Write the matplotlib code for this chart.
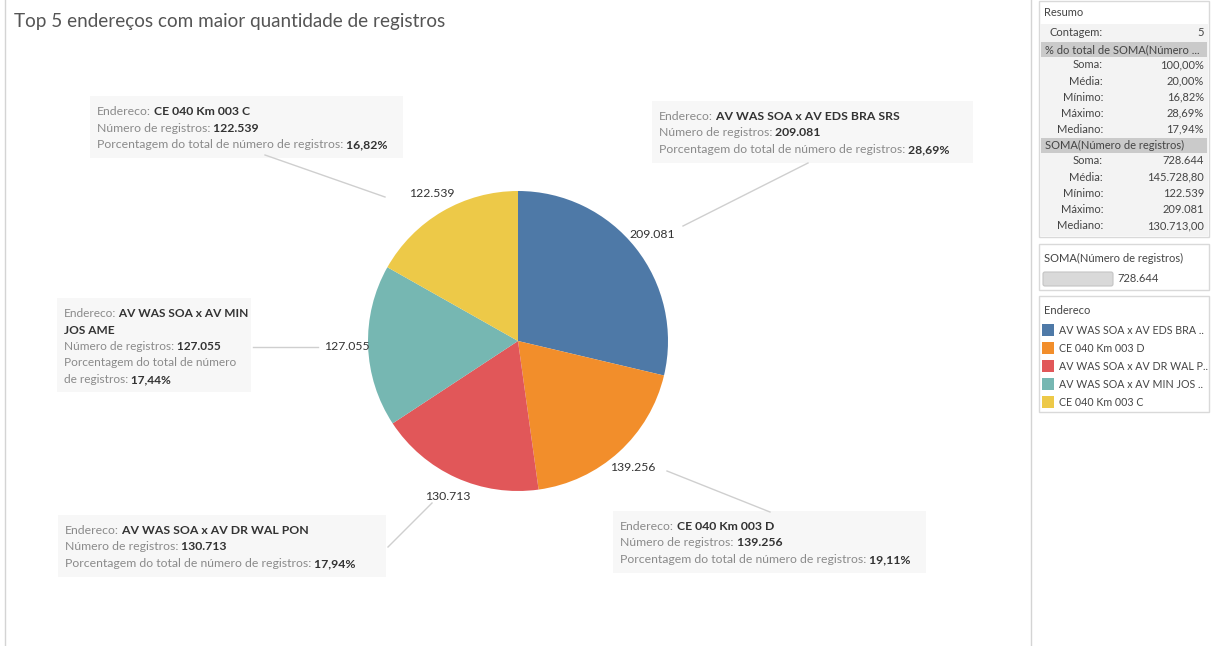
import matplotlib.pyplot as plt
from matplotlib.patches import Rectangle, FancyBboxPatch
import numpy as np

plt.rcParams['font.family'] = ['Lato', 'DejaVu Sans']

# data
enderecos = ["AV WAS SOA x AV EDS BRA SRS", "CE 040 Km 003 D", "AV WAS SOA x AV DR WAL PON",
             "AV WAS SOA x AV MIN JOS AME", "CE 040 Km 003 C"]
legenda = ["AV WAS SOA x AV EDS BRA ..", "CE 040 Km 003 D", "AV WAS SOA x AV DR WAL P..",
           "AV WAS SOA x AV MIN JOS ..", "CE 040 Km 003 C"]
registros = [209081, 139256, 130713, 127055, 122539]
cores = ["#4e79a7", "#f28e2b", "#e15759", "#76b7b2", "#edc948"]


def fmt_int(v):
    return f"{v:,}".replace(",", ".")


def fmt_dec(v):
    return f"{v:,.2f}".replace(",", "X").replace(".", ",").replace("X", ".")


def fmt_pct(v):
    return f"{v:.2f}%".replace(".", ",")


total = sum(registros)
pcts = [100 * r / total for r in registros]

W, H = 1211, 646
fig = plt.figure(figsize=(W / 100, H / 100), dpi=100)

# pixel-space layer for the dashboard frame, boxes and texts
bg = fig.add_axes([0, 0, 1, 1])
bg.set_xlim(0, W)
bg.set_ylim(H, 0)
bg.axis('off')

bg.plot([5, 5], [0, H], color="#d4d4d4", lw=1)
bg.plot([1031, 1031], [0, H], color="#d4d4d4", lw=1)

bg.text(14, 21, "Top 5 endereços com maior quantidade de registros", fontsize=13.6,
        color="#555555", va='center', ha='left')

# pie
cx, cy, r = 518, 341, 150
ax = fig.add_axes([(cx - r) / W, (H - cy - r) / H, 2 * r / W, 2 * r / H])
wedges, _ = ax.pie(registros, colors=cores, startangle=90, counterclock=False,
                   wedgeprops=dict(linewidth=0))
ax.set_xlim(-1, 1)
ax.set_ylim(-1, 1)

for w, v in zip(wedges, registros):
    ang = np.deg2rad((w.theta1 + w.theta2) / 2)
    ax.text(1.14 * np.cos(ang), 1.14 * np.sin(ang), fmt_int(v), ha='center', va='center',
            fontsize=8.8, color="#333333", clip_on=False)


def rich(x, y, parts, size=8.8):
    prev = None
    for s, bold in parts:
        kw = dict(fontsize=size, va='baseline', ha='left',
                  color="#333333" if bold else "#8a8a8a",
                  fontweight='bold' if bold else 'normal')
        if prev is None:
            prev = bg.text(x, y, s, **kw)
        else:
            prev = bg.annotate(s, xy=(1, y), xycoords=(prev, 'data'), **kw)


def caixa(x0, y0, x1, y1, linhas, size=8.8):
    bg.add_patch(Rectangle((x0, y0), x1 - x0, y1 - y0, facecolor="#f7f7f7", edgecolor='none'))
    for i, parts in enumerate(linhas):
        rich(x0 + 7, y0 + 19 + i * 16.5, parts, size)


def linhas_padrao(i):
    return [[("Endereco:", False), (" " + enderecos[i], True)],
            [("Número de registros:", False), (" " + fmt_int(registros[i]), True)],
            [("Porcentagem do total de número de registros:", False), (" " + fmt_pct(pcts[i]), True)]]


guia = "#cfcfcf"
# leader lines
bg.plot([683, 808], [226, 163], color=guia, lw=1)
bg.plot([667, 770], [471, 512], color=guia, lw=1)
bg.plot([388, 432], [547, 503], color=guia, lw=1)
bg.plot([253, 318], [347, 347], color=guia, lw=1)
bg.plot([265, 385], [155, 197], color=guia, lw=1)

caixa(652, 101, 973, 163, linhas_padrao(0))
caixa(613, 511, 926, 573, linhas_padrao(1))
caixa(58, 515, 386, 577, linhas_padrao(2))
caixa(90, 96, 403, 158, linhas_padrao(4))
caixa(57, 298, 251, 392, [
    [("Endereco:", False), (" AV WAS SOA x AV MIN", True)],
    [("JOS AME", True)],
    [("Número de registros:", False), (" " + fmt_int(registros[3]), True)],
    [("Porcentagem do total de número", False)],
    [("de registros:", False), (" " + fmt_pct(pcts[3]), True)],
], size=8.6)

# summary panel
txt = "#444444"
bg.add_patch(Rectangle((1039, 1), 170, 236, facecolor='white', edgecolor="#d9d9d9", lw=1))
bg.add_patch(Rectangle((1040, 24), 168, 212, facecolor="#f3f3f3", edgecolor='none'))
bg.text(1044, 13, "Resumo", fontsize=8, color=txt, va='center')

srt = sorted(registros)
mediana = srt[len(srt) // 2]
p_srt = sorted(pcts)
linhas_pct = [("Soma:", fmt_pct(sum(pcts))), ("Média:", fmt_pct(np.mean(pcts))),
              ("Mínimo:", fmt_pct(min(pcts))), ("Máximo:", fmt_pct(max(pcts))),
              ("Mediano:", fmt_pct(p_srt[len(p_srt) // 2]))]
linhas_soma = [("Soma:", fmt_int(total)), ("Média:", fmt_dec(np.mean(registros))),
               ("Mínimo:", fmt_int(min(registros))), ("Máximo:", fmt_int(max(registros))),
               ("Mediano:", fmt_dec(mediana))]


def linha_resumo(y, rotulo, valor):
    bg.text(1103, y, rotulo, fontsize=8, color=txt, va='center', ha='right')
    bg.text(1204, y, valor, fontsize=8, color=txt, va='center', ha='right')


linha_resumo(33, "Contagem:", str(len(registros)))
bg.add_patch(Rectangle((1041, 42), 166, 15, facecolor="#cacaca", edgecolor='none'))
bg.text(1045, 49.5, "% do total de SOMA(Número ...", fontsize=8, color=txt, va='center')
for i, (a, b) in enumerate(linhas_pct):
    linha_resumo(65 + i * 16.1, a, b)
bg.add_patch(Rectangle((1041, 138), 166, 15, facecolor="#cacaca", edgecolor='none'))
bg.text(1045, 145.5, "SOMA(Número de registros)", fontsize=8, color=txt, va='center')
for i, (a, b) in enumerate(linhas_soma):
    linha_resumo(161 + i * 16.2, a, b)

# total bar panel
bg.add_patch(Rectangle((1039, 244), 170, 46, facecolor='white', edgecolor="#d9d9d9", lw=1))
bg.text(1044, 258, "SOMA(Número de registros)", fontsize=8, color=txt, va='center')
bg.add_patch(FancyBboxPatch((1043, 272), 70, 14, boxstyle="round,pad=0,rounding_size=2",
                            facecolor="#d9d9d9", edgecolor="#c4c4c4", lw=0.8))
bg.text(1117, 279, fmt_int(total), fontsize=8, color=txt, va='center')

# color legend panel
bg.add_patch(Rectangle((1039, 296), 170, 116, facecolor='white', edgecolor="#d9d9d9", lw=1))
bg.text(1044, 310, "Endereco", fontsize=8, color=txt, va='center')
for i, (nome, c) in enumerate(zip(legenda, cores)):
    y = 330 + i * 18
    bg.add_patch(Rectangle((1042, y - 6), 12, 12, facecolor=c, edgecolor='none'))
    bg.text(1059, y, nome, fontsize=7.7, color=txt, va='center')

fig.savefig("out.png", dpi=100)
